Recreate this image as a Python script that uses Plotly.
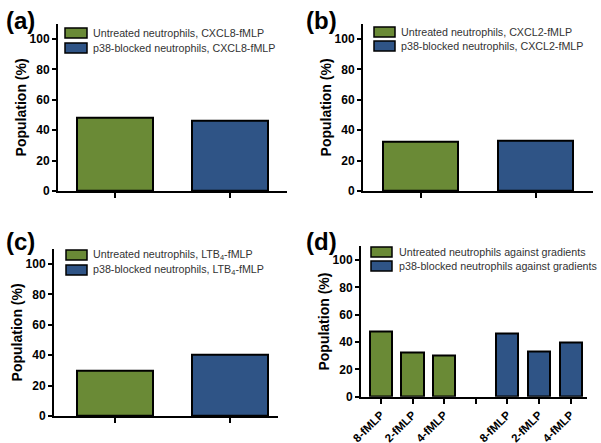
import plotly.graph_objects as go

# ---------------- data ----------------
panel_labels = ["(a)", "(b)", "(c)", "(d)"]
untreated_vals = [48, 32.5, 30]      # CXCL8, CXCL2, LTB4 gradients vs fMLP
blocked_vals = [46, 33, 40]
d_tick_labels = ["8-fMLP", "2-fMLP", "4-fMLP", "", "8-fMLP", "2-fMLP", "4-fMLP"]
d_green_x = [0, 1, 2]
d_blue_x = [4, 5, 6]
y_ticks = [0, 20, 40, 60, 80, 100]
legend_texts = [
    ["Untreated neutrophils, CXCL8-fMLP", "p38-blocked neutrophils, CXCL8-fMLP"],
    ["Untreated neutrophils, CXCL2-fMLP", "p38-blocked neutrophils, CXCL2-fMLP"],
    ["Untreated neutrophils, LTB<sub>4</sub>-fMLP", "p38-blocked neutrophils, LTB<sub>4</sub>-fMLP"],
    ["Untreated neutrophils against gradients", "p38-blocked neutrophils against gradients"],
]

GREEN = "#6a8a36"
BLUE = "#2f5486"
FONT = "Arial, Liberation Sans, sans-serif"
W, H = 601, 443


def px(x):
    return x / W


def py(y):
    return 1 - y / H


fig = go.Figure()

# panels a-c: two bars each
for i in range(3):
    ax = "" if i == 0 else str(i + 1)
    fig.add_trace(go.Bar(x=[0], y=[untreated_vals[i]], width=0.66,
                         marker=dict(color=GREEN, line=dict(color="black", width=2)),
                         xaxis="x" + ax, yaxis="y" + ax, showlegend=False))
    fig.add_trace(go.Bar(x=[1], y=[blocked_vals[i]], width=0.66,
                         marker=dict(color=BLUE, line=dict(color="black", width=2)),
                         xaxis="x" + ax, yaxis="y" + ax, showlegend=False))

# panel d
fig.add_trace(go.Bar(x=d_green_x, y=untreated_vals, width=0.7,
                     marker=dict(color=GREEN, line=dict(color="black", width=2)),
                     xaxis="x4", yaxis="y4", showlegend=False))
fig.add_trace(go.Bar(x=d_blue_x, y=blocked_vals, width=0.7,
                     marker=dict(color=BLUE, line=dict(color="black", width=2)),
                     xaxis="x4", yaxis="y4", showlegend=False))

# geometry (pixels): x-left, x-right, y-zero, y-top
geo = [
    (58, 287, 191, 23.8),
    (363, 593, 191, 23.8),
    (54, 278, 416, 248.8),
    (361, 587, 396.7, 246.4),
]
xranges = [[-0.5, 1.5], [-0.5, 1.5], [-0.53, 1.42], [-0.63, 6.52]]

layout = dict(width=W, height=H, margin=dict(l=0, r=0, t=0, b=0, autoexpand=False),
              plot_bgcolor="white", paper_bgcolor="white", bargap=0,
              font=dict(family=FONT, color="black"))

for i, (xl, xr, y0, yt) in enumerate(geo):
    ax = "" if i == 0 else str(i + 1)
    if i == 3:
        xt = dict(tickvals=list(range(7)), ticktext=["<b>%s</b>" % t if t else "" for t in d_tick_labels],
                  tickangle=-45, tickfont=dict(size=11.5, family=FONT, color="black"))
    else:
        xt = dict(tickvals=[0, 1], ticktext=["", ""])
    layout["xaxis" + ax] = dict(domain=[px(xl), px(xr)], range=xranges[i], automargin=False,
                                anchor="y" + ax, showline=True, linecolor="black", linewidth=2,
                                ticks="outside", ticklen=5, tickwidth=2, tickcolor="black",
                                showgrid=False, zeroline=False, fixedrange=True, **xt)
    layout["yaxis" + ax] = dict(domain=[py(y0), py(yt)], range=[0, 110], automargin=False,
                                anchor="x" + ax, showline=True, linecolor="black", linewidth=2,
                                ticks="outside", ticklen=4, tickwidth=2, tickcolor="black",
                                tickvals=y_ticks, ticktext=["<b>%d</b>" % v for v in y_ticks],
                                tickfont=dict(size=12, family=FONT, color="black"),
                                showgrid=False, zeroline=False, fixedrange=True,
                                title=dict(text="<b>Population (%)</b>", standoff=0,
                                           font=dict(size=14, family=FONT, color="black")))

fig.update_layout(**layout)

# manual legends
leg_geo = [
    (65, 87, 91, 33, 48),
    (374, 395, 399, 32, 46),
    (66, 87, 91, 255, 270),
    (371, 392, 397, 252, 266),
]
colors = [GREEN, BLUE]
shapes = []
annotations = []
for i, (sx0, sx1, tx, r1, r2) in enumerate(leg_geo):
    for j, ry in enumerate([r1, r2]):
        shapes.append(dict(type="rect", xref="paper", yref="paper",
                           x0=px(sx0), x1=px(sx1), y0=py(ry + 5), y1=py(ry - 5),
                           fillcolor=colors[j], line=dict(color="black", width=1.5)))
        annotations.append(dict(xref="paper", yref="paper", x=px(tx), y=py(ry),
                                xanchor="left", yanchor="middle", showarrow=False,
                                text=legend_texts[i][j],
                                font=dict(size=10.7, family=FONT, color="#333333")))

label_pos = [(4, 21), (304, 21), (4, 241), (304, 241)]
for lab, (lx, ly) in zip(panel_labels, label_pos):
    annotations.append(dict(xref="paper", yref="paper", x=px(lx), y=py(ly),
                            xanchor="left", yanchor="middle", showarrow=False,
                            text="<b>%s</b>" % lab,
                            font=dict(size=24, family=FONT, color="black")))

fig.update_layout(shapes=shapes, annotations=annotations)
fig.write_html("out.html", config={"displayModeBar": False},
               post_script="document.body.style.margin='0';document.body.style.overflow='hidden';")
